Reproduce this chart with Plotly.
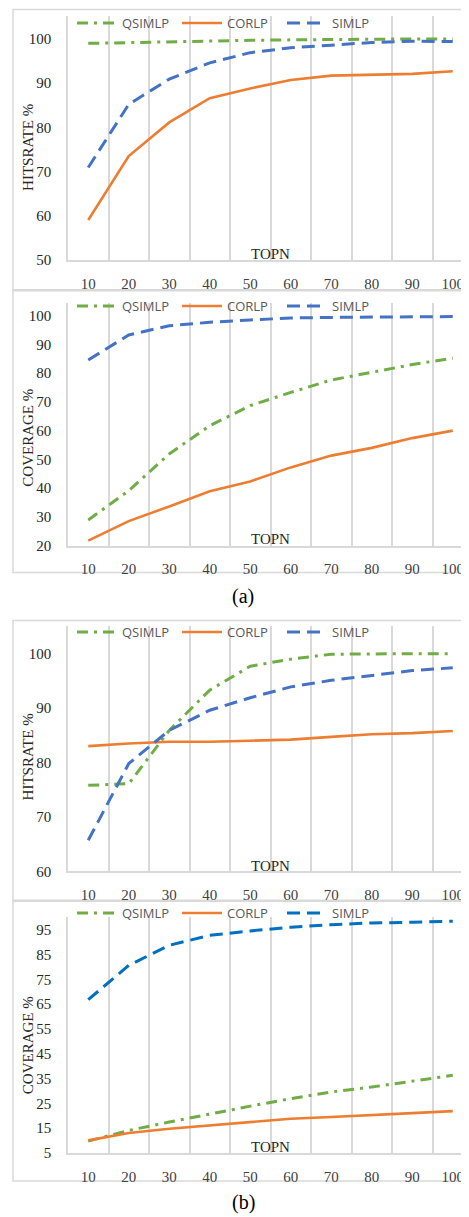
import plotly.graph_objects as go

# The page body has an 8px default margin; the figure is sized to fill the
# remaining viewport, and all geometry below is given in screen pixels.
OFF = 8
SCREEN_W, SCREEN_H = 469, 1217
W, H = SCREEN_W - OFF, SCREEN_H - OFF

topn = [10, 20, 30, 40, 50, 60, 70, 80, 90, 100]
series_names = ["QSIMLP", "CORLP", "SIMLP"]

hit_a_qsimlp = [99.0, 99.2, 99.4, 99.6, 99.7, 99.8, 99.9, 99.9, 100.0, 100.0]
hit_a_corlp = [59.0, 73.5, 81.1, 86.6, 88.8, 90.7, 91.7, 91.9, 92.1, 92.7]
hit_a_simlp = [70.9, 85.2, 90.9, 94.6, 96.9, 98.0, 98.6, 99.2, 99.5, 99.4]

cov_a_qsimlp = [28.9, 39.1, 51.9, 61.7, 68.7, 73.3, 77.6, 80.3, 83.0, 85.2]
cov_a_corlp = [21.7, 28.5, 33.6, 38.9, 42.3, 47.2, 51.3, 54.0, 57.4, 60.0]
cov_a_simlp = [84.6, 93.3, 96.5, 97.7, 98.5, 99.2, 99.4, 99.5, 99.6, 99.7]

hit_b_qsimlp = [75.8, 76.1, 85.9, 93.3, 97.7, 99.0, 99.9, 100.0, 100.0, 100.0]
hit_b_corlp = [83.0, 83.5, 83.8, 83.8, 84.0, 84.2, 84.7, 85.2, 85.4, 85.8]
hit_b_simlp = [65.7, 79.8, 85.9, 89.6, 91.9, 93.9, 95.1, 96.0, 96.9, 97.4]

cov_b_qsimlp = [9.8, 14.1, 17.5, 20.8, 23.9, 26.9, 29.6, 31.6, 33.9, 36.3]
cov_b_corlp = [10.1, 13.1, 14.8, 16.1, 17.5, 18.8, 19.5, 20.2, 21.1, 21.9]
cov_b_simlp = [66.8, 80.6, 88.7, 92.7, 94.5, 96.0, 97.0, 97.7, 98.0, 98.4]

y_titles = ["HITSRATE %", "COVERAGE %", "HITSRATE %", "COVERAGE %"]
y_ranges = [[50, 105.2], [20, 104.5], [60, 105], [5, 100]]
y_ticks = [[50, 60, 70, 80, 90, 100],
           [20, 30, 40, 50, 60, 70, 80, 90, 100],
           [60, 70, 80, 90, 100],
           [5, 15, 25, 35, 45, 55, 65, 75, 85, 95]]

panels = [
    (hit_a_qsimlp, hit_a_corlp, hit_a_simlp),
    (cov_a_qsimlp, cov_a_corlp, cov_a_simlp),
    (hit_b_qsimlp, hit_b_corlp, hit_b_simlp),
    (cov_b_qsimlp, cov_b_corlp, cov_b_simlp),
]

GREEN = "#70AD47"
ORANGE = "#ED7D31"
BLUES = ["#4472C4", "#4472C4", "#4472C4", "#0070C0"]

geo = [
    dict(top=15, bot=259, ftop=7, fbot=289, leg=22, topn=253, yt=147),
    dict(top=302, bot=545, ftop=290, fbot=572, leg=306, topn=538, yt=437),
    dict(top=626, bot=871, ftop=620, fbot=900, leg=632, topn=866, yt=757),
    dict(top=917, bot=1153, ftop=901, fbot=1181, leg=913, topn=1147, yt=1045),
]

X_LEFT = 68
PX_PER_UNIT = 4.05
x_range = [5, 5 + (SCREEN_W - X_LEFT) / PX_PER_UNIT]

def py(px):
    return 1 - (px - OFF) / H

def pxx(px):
    return (px - OFF) / W

fig = go.Figure()
shapes = []
annotations = []
serif = "Liberation Serif, Times New Roman, serif"
sans = "Open Sans, Liberation Sans, sans-serif"

for i, (q, c, s) in enumerate(panels):
    k = "" if i == 0 else str(i + 1)
    xa, ya = "x" + k, "y" + k
    leg = "legend" + k
    g = geo[i]
    fig.add_trace(go.Scatter(x=topn, y=q, mode="lines", name=series_names[0],
                             line=dict(color=GREEN, width=3, dash="11px,6px,3px,6px"),
                             xaxis=xa, yaxis=ya, legend=leg))
    fig.add_trace(go.Scatter(x=topn, y=c, mode="lines", name=series_names[1],
                             line=dict(color=ORANGE, width=2.6),
                             xaxis=xa, yaxis=ya, legend=leg))
    fig.add_trace(go.Scatter(x=topn, y=s, mode="lines", name=series_names[2],
                             line=dict(color=BLUES[i], width=3, dash="13px,7px"),
                             xaxis=xa, yaxis=ya, legend=leg))
    dom_y = [py(g["bot"]), py(g["top"])]
    fig.update_layout({
        "xaxis" + k: dict(domain=[pxx(X_LEFT), 1], range=x_range, anchor=ya, automargin=False,
                          tickmode="array", tickvals=topn,
                          ticktext=[str(v) for v in topn],
                          showgrid=False, zeroline=False,
                          showline=True, linecolor="#d9d9d9", linewidth=1.5,
                          ticks="", ticklabelstandoff=9,
                          tickfont=dict(family=serif, size=15, color="#404040"),
                          minor=dict(tickmode="linear", tick0=15, dtick=10,
                                     showgrid=True, gridcolor="#d9d9d9", gridwidth=1.5, ticks="")),
        "yaxis" + k: dict(domain=dom_y, range=y_ranges[i], anchor=xa, automargin=False,
                          tickmode="array", tickvals=y_ticks[i],
                          showgrid=False, zeroline=False,
                          showline=True, linecolor="#d9d9d9", linewidth=1.5,
                          ticks="", ticklabelstandoff=12,
                          tickfont=dict(family=serif, size=15, color="#262626")),
        leg: dict(orientation="h", x=pxx(72), xanchor="left", y=py(g["leg"]), yanchor="middle",
                  bgcolor="rgba(0,0,0,0)", font=dict(family=sans, size=13, color="#595959"),
                  entrywidth=50, itemwidth=40, traceorder="normal"),
    })
    shapes.append(dict(type="rect", xref="paper", yref="paper",
                       x0=pxx(13), x1=1.02, y0=py(g["fbot"]), y1=min(py(g["ftop"]), 0.9995),
                       line=dict(color="#d9d9d9", width=1.5), fillcolor="rgba(0,0,0,0)", layer="below"))
    annotations.append(dict(text="TOPN", xref="paper", yref="paper", x=pxx(270), y=py(g["topn"]),
                            xanchor="center", yanchor="middle", showarrow=False,
                            font=dict(family=serif, size=15, color="#262626")))
    annotations.append(dict(text=y_titles[i], xref="paper", yref="paper", x=pxx(28), y=py(g["yt"]),
                            xanchor="center", yanchor="middle", showarrow=False, textangle=-90,
                            font=dict(family=serif, size=15, color="#262626")))

annotations.append(dict(text="(a)", xref="paper", yref="paper", x=pxx(243), y=py(596),
                        xanchor="center", yanchor="middle", showarrow=False,
                        font=dict(family=serif, size=20, color="#000000")))
annotations.append(dict(text="(b)", xref="paper", yref="paper", x=pxx(243), y=py(1202),
                        xanchor="center", yanchor="middle", showarrow=False,
                        font=dict(family=serif, size=20, color="#000000")))

fig.update_layout(width=W, height=H, margin=dict(l=0, r=0, t=0, b=0),
                  paper_bgcolor="white", plot_bgcolor="rgba(0,0,0,0)",
                  shapes=shapes, annotations=annotations, showlegend=True)

fig.write_html("out.html")
